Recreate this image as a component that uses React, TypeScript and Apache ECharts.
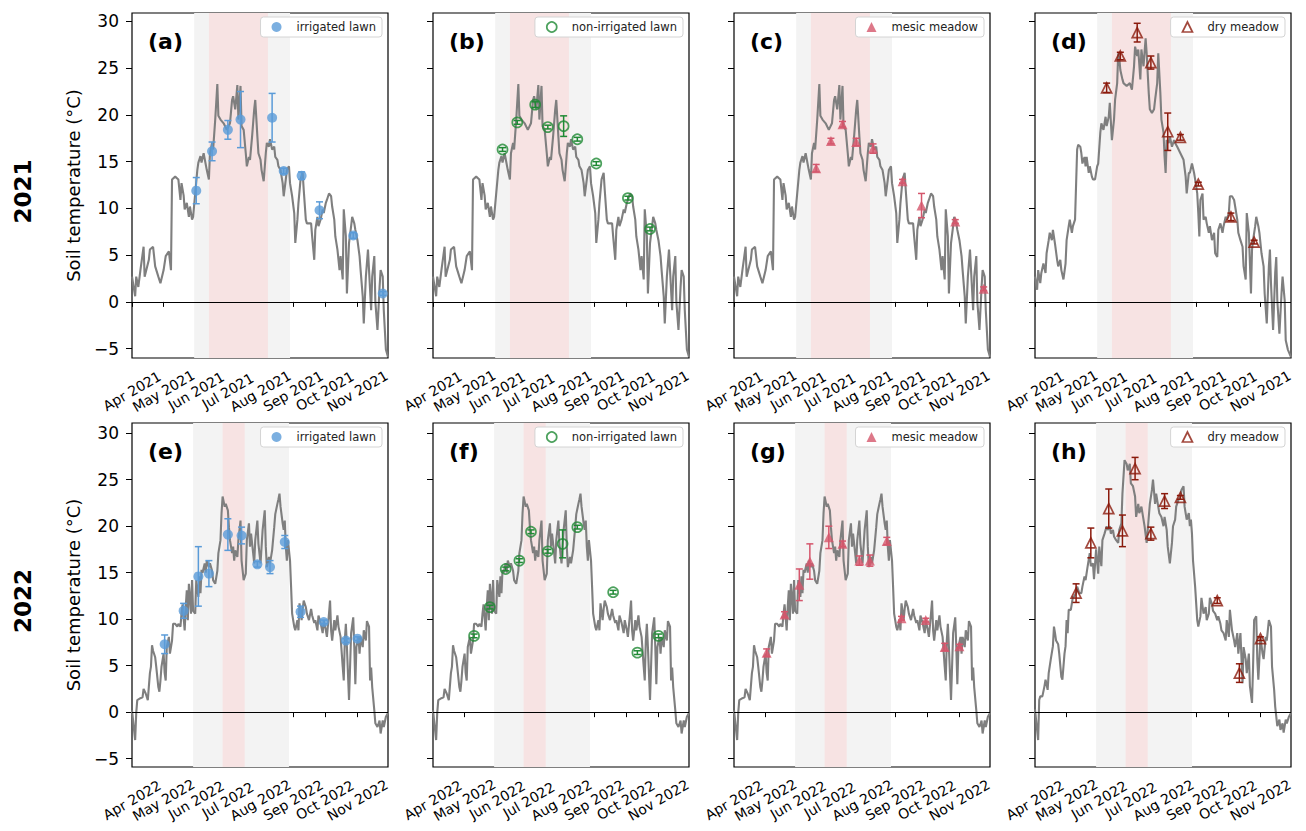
import { useEffect, useRef } from "react";
import * as echarts from "echarts";

// ---------- axes ----------
const monthTickDays = [0, 30, 61, 91, 122, 153, 183, 214]; // days since Apr 1
const monthTickNames = ["Apr", "May", "Jun", "Jul", "Aug", "Sep", "Oct", "Nov"];
const yTicks = [-5, 0, 5, 10, 15, 20, 25, 30];
const years = [2021, 2022];
const yLimits = [
  [-6.0, 30.9],
  [-5.9, 31.1],
];
const seasonLength = 243; // Apr 1 .. Nov 30

// shaded periods, days since Apr 1
const grayPeriods = [
  [59, 150],
  [58, 149],
];
const pinkPeriods = [
  [73, 129],
  [86, 107],
];

// ---------- daily soil temperature (day since Apr 1, °C) ----------
const soil2021 = [
  [0, 2.7], [3, 0.6], [4, 2.7], [6, 1.6], [8, 3.4], [11, 5.9], [12, 2.7], [16, 4.5], [17, 5.6], [20, 5.9],
  [22, 3.8], [25, 2.7], [27, 2.0], [30, 3.4], [32, 4.9], [35, 5.4], [37, 3.4], [38, 13.1], [41, 13.4], [44, 13.1],
  [46, 10.9], [47, 12.7], [49, 11.4], [50, 9.9], [52, 10.6], [54, 9.1], [55, 10.2], [57, 8.8], [58, 9.1], [60, 11.6],
  [62, 14.1], [63, 14.9], [65, 15.6], [66, 14.9], [68, 15.9], [71, 14.1], [73, 13.1], [74, 15.9], [76, 17.0], [77, 16.3],
  [79, 19.5], [81, 23.3], [82, 19.9], [84, 19.5], [87, 19.1], [90, 18.4], [93, 19.1], [95, 21.6], [96, 22.0], [98, 20.6],
  [100, 23.2], [101, 19.5], [103, 23.1], [104, 18.8], [106, 18.4], [108, 15.9], [109, 14.5], [111, 15.5], [112, 15.2], [114, 17.7],
  [116, 20.6], [117, 21.6], [119, 17.7], [120, 15.9], [122, 15.2], [123, 14.1], [125, 12.9], [127, 15.9], [128, 17.0], [130, 16.6],
  [131, 17.4], [133, 16.3], [135, 16.6], [136, 15.5], [138, 15.2], [139, 14.5], [141, 14.1], [143, 12.7], [144, 11.3], [146, 13.1],
  [147, 14.1], [149, 14.5], [150, 12.7], [152, 11.3], [154, 9.5], [155, 6.3], [157, 8.8], [158, 10.6], [160, 13.1], [162, 13.8],
  [163, 12.0], [165, 8.8], [166, 8.4], [170, 8.4], [171, 7.0], [173, 4.5], [174, 7.7], [176, 9.1], [177, 8.1], [179, 8.8],
  [181, 9.9], [182, 9.5], [184, 10.6], [185, 10.9], [187, 11.6], [189, 11.3], [190, 10.2], [192, 8.8], [193, 7.0], [195, 5.6],
  [197, 3.4], [198, 4.9], [200, 2.4], [201, 9.9], [203, 7.0], [204, 0.9], [206, 6.3], [208, 8.1], [209, 9.1], [211, 8.4],
  [212, 7.7], [214, 6.6], [216, 4.9], [217, 3.4], [219, 0.6], [220, -2.3], [222, 2.7], [224, 5.6], [225, 3.4], [227, -0.9],
  [228, 2.7], [230, 4.9], [231, 0.0], [233, -3.0], [235, 1.6], [236, 3.4], [238, 2.7], [239, -0.9], [241, -5.1], [243, -5.9],
];

const soilDry2021 = [
  [0, 2.7], [2, 1.3], [3, 3.4], [5, 2.0], [6, 3.1], [8, 4.1], [10, 3.1], [11, 5.2], [13, 6.6], [14, 7.4],
  [16, 6.6], [17, 7.7], [19, 6.2], [21, 4.5], [22, 3.8], [24, 4.5], [25, 3.4], [27, 2.4], [29, 4.1], [30, 6.6],
  [32, 8.1], [33, 8.8], [35, 7.4], [36, 8.1], [38, 8.8], [40, 16.3], [41, 16.8], [43, 16.6], [44, 15.9], [45, 14.8],
  [47, 15.5], [48, 14.5], [49, 15.5], [51, 13.8], [52, 14.5], [54, 13.4], [55, 13.1], [57, 13.1], [59, 14.5], [60, 14.8],
  [62, 18.1], [63, 19.1], [65, 18.4], [67, 19.8], [68, 18.8], [70, 19.8], [71, 21.3], [73, 17.3], [75, 19.5], [76, 21.6],
  [78, 23.4], [79, 26.6], [80, 26.1], [81, 24.8], [83, 23.8], [84, 23.4], [87, 23.1], [90, 23.4], [92, 22.7], [94, 25.2],
  [95, 27.3], [97, 26.3], [98, 27.0], [100, 23.8], [101, 27.0], [103, 25.2], [105, 28.2], [106, 26.6], [108, 22.3], [109, 20.6],
  [111, 20.2], [113, 20.6], [114, 21.6], [116, 23.4], [117, 26.6], [119, 22.3], [120, 19.5], [122, 18.1], [123, 15.5], [124, 13.8],
  [125, 17.3], [127, 17.0], [128, 17.7], [130, 16.6], [132, 17.3], [133, 17.0], [135, 16.6], [138, 15.9], [141, 15.2], [143, 13.4],
  [144, 11.6], [146, 13.8], [147, 13.8], [149, 14.8], [151, 13.8], [152, 13.1], [154, 11.6], [155, 9.5], [156, 7.0], [157, 10.9],
  [159, 11.6], [160, 8.8], [162, 9.1], [163, 8.4], [165, 7.4], [166, 8.1], [168, 6.6], [170, 7.4], [171, 5.2], [173, 4.8],
  [174, 7.7], [176, 8.4], [178, 7.4], [179, 8.1], [181, 9.1], [182, 8.8], [184, 9.5], [185, 11.3], [187, 11.3], [189, 10.9],
  [190, 10.2], [192, 8.8], [193, 7.4], [195, 6.6], [197, 5.9], [198, 3.8], [200, 2.4], [201, 9.5], [203, 7.4], [205, 0.9],
  [206, 5.6], [207, 6.6], [209, 8.1], [210, 9.1], [212, 8.1], [213, 7.4], [215, 5.2], [217, 3.8], [218, 0.9], [220, -2.3],
  [222, 3.8], [223, 5.6], [224, 2.0], [226, -3.0], [228, 3.1], [229, 4.8], [230, 0.2], [232, -3.4], [234, 0.9], [235, 2.7],
  [237, 0.2], [238, -4.1], [240, -5.1], [243, -5.9],
];

const soil2022 = [
  [0, 0.2], [3, -3.0], [4, -0.1], [5, 1.3], [8, 1.5], [10, 1.6], [11, 2.5], [13, 2.0], [15, 1.3], [17, 4.2],
  [18, 4.9], [19, 7.2], [20, 6.6], [22, 5.9], [23, 4.9], [25, 2.7], [26, 2.2], [27, 3.4], [28, 4.9], [30, 6.3],
  [31, 4.2], [32, 3.4], [33, 7.0], [35, 8.1], [36, 6.3], [38, 7.7], [39, 9.5], [41, 9.5], [43, 9.2], [44, 9.5],
  [46, 9.2], [47, 10.6], [48, 11.6], [50, 8.8], [51, 11.3], [52, 13.1], [53, 9.9], [54, 13.8], [55, 12.4], [56, 10.6],
  [57, 14.2], [58, 10.9], [60, 10.6], [61, 14.2], [63, 12.4], [64, 14.6], [65, 12.8], [66, 15.3], [67, 15.0], [69, 16.0],
  [70, 15.0], [71, 16.3], [73, 15.6], [74, 16.0], [76, 15.2], [77, 14.2], [79, 13.8], [81, 15.2], [82, 17.1], [84, 18.5],
  [85, 21.4], [86, 23.2], [88, 22.1], [89, 22.4], [91, 21.7], [92, 19.9], [93, 18.5], [95, 17.1], [96, 17.8], [97, 16.3],
  [98, 17.4], [100, 16.7], [101, 18.5], [103, 20.6], [104, 16.3], [106, 14.2], [108, 14.9], [109, 18.5], [111, 20.3], [112, 17.8],
  [113, 19.2], [115, 17.1], [116, 16.0], [117, 18.5], [119, 20.6], [120, 18.1], [122, 16.0], [123, 17.8], [124, 19.6], [126, 21.7],
  [127, 17.8], [128, 15.6], [130, 16.7], [131, 16.0], [133, 17.4], [135, 19.9], [136, 21.3], [138, 22.4], [139, 22.9], [140, 23.5],
  [141, 22.1], [143, 20.3], [144, 19.6], [145, 20.6], [146, 17.8], [147, 16.3], [148, 18.5], [150, 16.3], [151, 13.5], [152, 10.6],
  [154, 9.2], [155, 8.8], [157, 9.9], [158, 8.8], [159, 11.7], [161, 9.9], [162, 11.1], [163, 12.0], [165, 11.3], [166, 10.6],
  [168, 9.9], [170, 11.1], [171, 10.4], [173, 9.6], [174, 9.9], [176, 8.8], [177, 10.4], [179, 9.6], [181, 8.5], [182, 9.9],
  [184, 8.8], [185, 8.1], [187, 10.6], [188, 12.0], [189, 8.8], [190, 7.7], [192, 9.9], [193, 8.8], [195, 10.4], [196, 9.2],
  [198, 8.1], [200, 4.9], [201, 3.4], [202, 7.7], [203, 9.5], [204, 7.0], [206, 1.3], [207, 4.9], [208, 8.5], [210, 10.2],
  [211, 7.0], [212, 3.0], [213, 7.0], [215, 8.1], [216, 6.3], [217, 8.1], [219, 7.0], [220, 8.8], [222, 7.7], [223, 9.8],
  [225, 9.2], [226, 3.4], [227, 4.8], [228, 2.7], [230, 0.2], [231, -1.2], [233, -1.6], [235, -0.9], [236, -2.3], [238, -0.9],
  [239, -1.6], [241, -0.5], [243, -0.1],
];

const soilDry2022 = [
  [0, 0.3], [1, -0.8], [3, -3.0], [4, 1.3], [5, 1.7], [7, 1.7], [9, 2.8], [10, 3.5], [12, 2.4], [13, 4.2],
  [15, 5.7], [17, 7.1], [18, 9.2], [19, 8.5], [20, 7.7], [22, 7.3], [23, 6.3], [25, 3.8], [26, 3.5], [28, 6.3],
  [29, 7.1], [30, 9.9], [31, 8.5], [32, 11.0], [34, 11.0], [36, 12.4], [37, 12.4], [39, 12.8], [40, 13.5], [42, 12.8],
  [44, 12.8], [45, 13.5], [47, 14.6], [48, 14.2], [50, 15.7], [52, 17.1], [53, 15.7], [55, 16.0], [56, 14.3], [58, 17.5],
  [60, 14.9], [61, 17.8], [63, 15.7], [64, 18.5], [66, 19.2], [68, 20.0], [69, 19.6], [71, 20.0], [72, 19.2], [74, 19.6],
  [75, 18.9], [77, 18.5], [79, 18.2], [80, 19.6], [82, 20.3], [83, 23.5], [85, 27.1], [87, 26.7], [88, 26.0], [90, 26.7],
  [91, 24.6], [93, 24.3], [95, 23.2], [96, 21.0], [98, 22.4], [99, 21.4], [101, 22.1], [103, 20.7], [104, 20.0], [106, 18.2],
  [107, 19.6], [109, 22.4], [111, 23.9], [112, 25.0], [114, 22.4], [115, 23.5], [117, 22.1], [118, 21.4], [120, 21.0], [122, 20.0],
  [123, 21.0], [125, 19.6], [126, 17.8], [128, 16.0], [130, 18.2], [131, 20.0], [133, 20.7], [134, 22.1], [136, 22.8], [138, 23.2],
  [139, 23.9], [141, 24.3], [142, 22.1], [144, 20.7], [146, 21.4], [147, 20.0], [148, 20.7], [149, 19.2], [150, 16.3], [152, 13.5],
  [154, 9.9], [155, 9.2], [157, 10.3], [158, 12.3], [160, 10.6], [162, 11.3], [163, 9.9], [165, 10.6], [166, 12.3], [168, 11.6],
  [169, 10.9], [171, 10.6], [173, 9.9], [174, 10.3], [176, 9.5], [177, 8.8], [179, 8.5], [181, 7.7], [182, 9.9], [184, 8.1],
  [185, 11.0], [187, 8.8], [189, 7.7], [190, 7.0], [192, 8.5], [193, 6.3], [195, 8.5], [197, 3.1], [198, 7.0], [200, 5.7],
  [201, 4.2], [203, 6.3], [204, 2.8], [206, 1.0], [207, 4.9], [208, 9.9], [210, 10.3], [211, 5.7], [212, 3.5], [214, 8.1],
  [216, 6.3], [217, 5.7], [219, 8.1], [220, 7.7], [222, 9.9], [224, 9.2], [225, 4.9], [227, 2.4], [228, 0.6], [230, -1.5],
  [232, -0.8], [233, -1.9], [235, -1.2], [236, -2.2], [238, -0.8], [239, -1.2], [241, -0.5], [243, -0.1],
];

// ---------- measurements: [day since Apr 1, mean °C, error °C] ----------
const ptsA = [[61, 11.9, 1.4], [76, 16.1, 1.0], [91, 18.4, 1.0], [103, 19.5, 3.0], [133, 19.7, 2.6], [144, 14.0, 0.3], [161, 13.5, 0.4], [178, 9.8, 0.9], [210, 7.1, 0.3], [238, 0.9, 0.2]];
const ptsB = [[66, 16.3, 0.2], [80, 19.2, 0.2], [97, 21.1, 0.3], [109, 18.7, 0.2], [124, 18.8, 1.1], [137, 17.4, 0.2], [155, 14.8, 0.2], [185, 11.1, 0.2], [206, 7.8, 0.2]];
const ptsC = [[78, 14.3, 0.4], [92, 17.2, 0.3], [103, 19.0, 0.3], [116, 17.1, 0.4], [132, 16.4, 0.5], [160, 12.9, 0.2], [178, 10.3, 1.3], [210, 8.6, 0.2], [237, 1.4, 0.2]];
const ptsD = [[68, 22.9, 0.5], [81, 26.3, 0.4], [97, 28.8, 1.0], [110, 25.6, 0.7], [126, 18.2, 2.0], [138, 17.6, 0.3], [155, 12.6, 0.2], [186, 9.1, 0.4], [208, 6.4, 0.2]];
const ptsE = [[31, 7.3, 1.0], [49, 10.9, 0.8], [63, 14.6, 3.2], [73, 14.9, 1.4], [91, 19.1, 1.7], [104, 19.0, 0.9], [119, 15.9, 0.3], [131, 15.6, 0.7], [145, 18.3, 0.7], [160, 10.8, 0.6], [182, 9.7, 0.2], [203, 7.7, 0.2], [214, 7.9, 0.2]];
const ptsF = [[39, 8.2, 0.2], [54, 11.3, 0.2], [69, 15.4, 0.2], [82, 16.3, 0.2], [93, 19.4, 0.2], [109, 17.3, 0.2], [123, 18.1, 1.5], [137, 19.9, 0.2], [171, 12.9, 0.2], [194, 6.4, 0.2], [214, 8.2, 0.2]];
const ptsG = [[31, 6.4, 0.4], [48, 10.5, 0.3], [62, 13.7, 1.7], [72, 16.2, 1.9], [90, 18.8, 1.2], [103, 18.1, 0.3], [119, 16.3, 0.5], [129, 16.3, 0.6], [145, 18.4, 0.4], [159, 10.1, 0.2], [182, 9.9, 0.2], [200, 7.0, 0.4], [214, 7.1, 0.2]];
const ptsH = [[39, 12.8, 1.0], [53, 18.2, 1.6], [70, 21.9, 2.1], [83, 19.5, 1.7], [95, 26.2, 1.2], [110, 19.2, 0.7], [123, 22.7, 0.8], [138, 23.1, 0.2], [173, 12.0, 0.3], [194, 4.2, 1.0], [214, 7.9, 0.2]];

const habitats = [
  { name: "irrigated lawn", symbol: "circle", color: "#5a9bd8", hollow: false, size: 10 },
  { name: "non-irrigated lawn", symbol: "circle", color: "#1f8a34", hollow: true, size: 10 },
  { name: "mesic meadow", symbol: "triangle", color: "#d5566c", hollow: false, size: 10 },
  { name: "dry meadow", symbol: "triangle", color: "#8b1a0c", hollow: true, size: 10 },
];

const panels = [
  { label: "(a)", row: 0, col: 0, line: soil2021, pts: ptsA, hab: 0 },
  { label: "(b)", row: 0, col: 1, line: soil2021, pts: ptsB, hab: 1 },
  { label: "(c)", row: 0, col: 2, line: soil2021, pts: ptsC, hab: 2 },
  { label: "(d)", row: 0, col: 3, line: soilDry2021, pts: ptsD, hab: 3 },
  { label: "(e)", row: 1, col: 0, line: soil2022, pts: ptsE, hab: 0 },
  { label: "(f)", row: 1, col: 1, line: soil2022, pts: ptsF, hab: 1 },
  { label: "(g)", row: 1, col: 2, line: soil2022, pts: ptsG, hab: 2 },
  { label: "(h)", row: 1, col: 3, line: soilDry2022, pts: ptsH, hab: 3 },
];

const FONT = "DejaVu Sans";
const W = 1306;
const H = 831;
const gridLefts = [132, 433, 734, 1035];
const gridTops = [13, 423];
const gridHeights = [345, 344];
const gridWidth = 256;

function buildOption() {
  const grid: any[] = [];
  const xAxis: any[] = [];
  const yAxis: any[] = [];
  const series: any[] = [];
  const legend: any[] = [];
  const graphic: any[] = [];

  panels.forEach((p, i) => {
    const hab = habitats[p.hab];
    const left = gridLefts[p.col];
    const top = gridTops[p.row];
    const year = years[p.row];
    grid.push({
      left,
      top,
      width: gridWidth,
      height: gridHeights[p.row],
      show: true,
      borderColor: "#000",
      borderWidth: 1.2,
      backgroundColor: "transparent",
      outerBoundsMode: "none",
      containLabel: false,
    });
    xAxis.push({
      type: "value",
      gridIndex: i,
      min: 0,
      max: seasonLength,
      axisLine: { show: false },
      splitLine: { show: false },
      axisTick: {
        show: true,
        length: 5,
        lineStyle: { color: "#000", width: 1 },
        customValues: monthTickDays,
      },
      axisLabel: {
        show: true,
        customValues: monthTickDays,
        rotate: 30,
        align: "center",
        verticalAlign: "middle",
        margin: 33,
        fontFamily: FONT,
        fontSize: 14,
        color: "#000",
        formatter: (v: number) => {
          const k = monthTickDays.indexOf(Math.round(v));
          return k >= 0 ? `${monthTickNames[k]} ${year}` : "";
        },
      },
    });
    yAxis.push({
      type: "value",
      gridIndex: i,
      min: yLimits[p.row][0],
      max: yLimits[p.row][1],
      axisLine: { show: false },
      splitLine: { show: false },
      axisTick: {
        show: true,
        length: 6,
        lineStyle: { color: "#000", width: 1 },
        customValues: yTicks,
      },
      axisLabel: {
        show: p.col === 0,
        customValues: yTicks,
        margin: 13,
        fontFamily: FONT,
        fontSize: 17,
        color: "#000",
        formatter: (v: number) => (v < 0 ? "\u2212" + Math.abs(v) : String(v)),
      },
      name: p.col === 0 ? "Soil temperature (°C)" : "",
      nameLocation: "middle",
      nameGap: 50,
      nameTextStyle: { fontFamily: FONT, fontSize: 18, color: "#000" },
    });

    const gp = grayPeriods[p.row];
    const pp = pinkPeriods[p.row];
    series.push({
      type: "line",
      name: `soil ${p.label}`,
      xAxisIndex: i,
      yAxisIndex: i,
      data: p.line,
      symbol: "none",
      lineStyle: { color: "#7f7f7f", width: 2.1 },
      z: 2,
      silent: true,
      markArea: {
        silent: true,
        data: [
          [{ xAxis: gp[0], itemStyle: { color: "#f3f3f3" } }, { xAxis: gp[1] }],
          [{ xAxis: pp[0], itemStyle: { color: "#f7e3e3" } }, { xAxis: pp[1] }],
        ],
        label: { show: false },
      },
      markLine: {
        silent: true,
        symbol: "none",
        label: { show: false },
        lineStyle: { color: "#000", width: 1, type: "solid" },
        data: [{ yAxis: 0 }],
      },
    });
    series.push({
      type: "custom",
      name: `err ${p.label}`,
      xAxisIndex: i,
      yAxisIndex: i,
      data: p.pts,
      z: 3,
      silent: true,
      encode: { x: 0, y: 1 },
      renderItem: (_params: any, api: any) => {
        const x = api.value(0);
        const m = api.value(1);
        const e = api.value(2);
        const hi = api.coord([x, m + e]);
        const lo = api.coord([x, m - e]);
        const cw = 3.5;
        const st = { stroke: hab.color, lineWidth: 1.5 };
        return {
          type: "group",
          children: [
            { type: "line", shape: { x1: hi[0], y1: hi[1], x2: lo[0], y2: lo[1] }, style: st },
            { type: "line", shape: { x1: hi[0] - cw, y1: hi[1], x2: hi[0] + cw, y2: hi[1] }, style: st },
            { type: "line", shape: { x1: lo[0] - cw, y1: lo[1], x2: lo[0] + cw, y2: lo[1] }, style: st },
          ],
        };
      },
    });
    const itemStyle = hab.hollow
      ? { color: "rgba(255,255,255,0)", borderColor: hab.color, borderWidth: 1.7 }
      : { color: hab.color };
    series.push({
      type: "scatter",
      name: hab.name,
      xAxisIndex: i,
      yAxisIndex: i,
      data: p.pts.map((d) => [d[0], d[1]]),
      symbol: hab.symbol,
      symbolSize: hab.size,
      itemStyle,
      z: 4,
      silent: true,
    });
    legend.push({
      show: true,
      selectedMode: false,
      right: W - (left + gridWidth - 6),
      top: top + 4,
      padding: [4, 6, 4, 11],
      itemWidth: 10,
      itemHeight: 10,
      itemGap: 0,
      symbolKeepAspect: true,
      backgroundColor: "#fff",
      borderColor: "#d4d4d4",
      borderWidth: 1,
      borderRadius: 3,
      textStyle: { fontFamily: FONT, fontSize: 11.5, color: "#222", padding: [0, 0, 0, 10] },
      data: [{ name: hab.name, icon: hab.symbol, itemStyle }],
      z: 10,
    });
    graphic.push({
      type: "text",
      x: left + 16,
      y: top + 28,
      style: {
        text: p.label,
        font: `bold 22px "${FONT}"`,
        fill: "#000",
        verticalAlign: "middle",
        align: "left",
      },
      z: 20,
    });
  });

  years.forEach((yr, r) => {
    graphic.push({
      type: "text",
      x: 23,
      y: gridTops[r] + gridHeights[r] / 2 + 6,
      rotation: Math.PI / 2,
      style: {
        text: String(yr),
        font: `bold 23px "${FONT}"`,
        fill: "#000",
        align: "center",
        verticalAlign: "middle",
      },
    });
  });

  return {
    animation: false,
    backgroundColor: "#fff",
    grid,
    xAxis,
    yAxis,
    series,
    legend,
    graphic,
  };
}

export default function App() {
  const ref = useRef<HTMLDivElement>(null);
  useEffect(() => {
    if (!ref.current) return;
    const chart = echarts.init(ref.current, undefined, { renderer: "svg" });
    chart.setOption(buildOption() as any);
    return () => chart.dispose();
  }, []);
  return (
    <div
      ref={ref}
      style={{ position: "absolute", left: 0, top: 0, width: W, height: H, background: "#fff" }}
    />
  );
}
